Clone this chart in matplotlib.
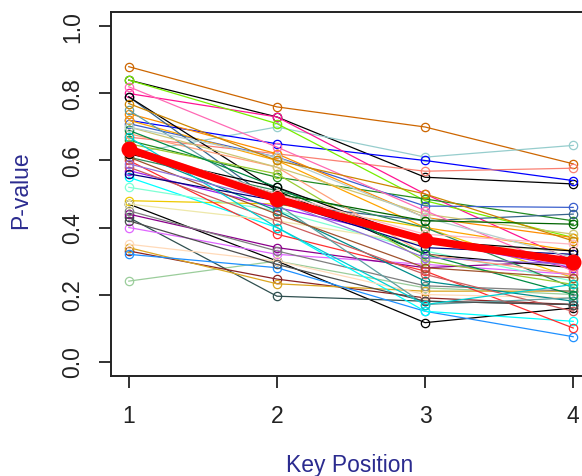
import matplotlib
matplotlib.use("Agg")
import matplotlib.pyplot as plt

plt.rcParams['font.family'] = ['Liberation Sans', 'DejaVu Sans']

positions = [1, 2, 3, 4]

# p-values per subject at each key position
series = [
    [0.88, 0.76, 0.70, 0.59],
    [0.84, 0.73, 0.55, 0.53],
    [0.62, 0.70, 0.61, 0.645],
    [0.72, 0.65, 0.60, 0.54],
    [0.67, 0.62, 0.568, 0.577],
    [0.80, 0.73, 0.50, 0.30],
    [0.84, 0.71, 0.48, 0.37],
    [0.66, 0.55, 0.485, 0.42],
    [0.71, 0.61, 0.464, 0.46],
    [0.48, 0.47, 0.40, 0.25],
    [0.24, 0.30, 0.22, 0.20],
    [0.47, 0.30, 0.116, 0.16],
    [0.43, 0.195, 0.18, 0.17],
    [0.33, 0.246, 0.19, 0.17],
    [0.34, 0.232, 0.21, 0.21],
    [0.32, 0.28, 0.15, 0.074],
    [0.40, 0.32, 0.29, 0.26],
    [0.44, 0.34, 0.28, 0.30],
    [0.45, 0.33, 0.226, 0.21],
    [0.55, 0.40, 0.15, 0.12],
    [0.52, 0.45, 0.33, 0.24],
    [0.74, 0.62, 0.43, 0.37],
    [0.72, 0.60, 0.40, 0.33],
    [0.79, 0.47, 0.42, 0.44],
    [0.79, 0.51, 0.32, 0.28],
    [0.60, 0.38, 0.27, 0.10],
    [0.61, 0.51, 0.40, 0.22],
    [0.57, 0.46, 0.36, 0.28],
    [0.47, 0.42, 0.35, 0.33],
    [0.35, 0.30, 0.20, 0.19],
    [0.68, 0.58, 0.32, 0.26],
    [0.63, 0.45, 0.24, 0.18],
    [0.65, 0.56, 0.30, 0.23],
    [0.58, 0.42, 0.26, 0.15],
    [0.75, 0.47, 0.17, 0.19],
    [0.70, 0.58, 0.44, 0.38],
    [0.56, 0.48, 0.34, 0.32],
    [0.69, 0.52, 0.32, 0.20],
    [0.82, 0.64, 0.45, 0.27],
    [0.61, 0.44, 0.28, 0.25],
    [0.42, 0.29, 0.18, 0.17],
    [0.67, 0.40, 0.17, 0.23],
    [0.70, 0.61, 0.43, 0.31],
    [0.62, 0.52, 0.36, 0.33],
    [0.59, 0.48, 0.31, 0.29],
    [0.77, 0.60, 0.50, 0.36],
    [0.63, 0.50, 0.42, 0.41],
    [0.64, 0.50, 0.38, 0.35],
]

colours = [
    '#CD6600', 'black', '#96CDCD', 'blue', '#FA8072', '#FF1493', '#76EE00',
    '#228B22', '#3A5FCD', '#EEC900', '#9BCD9B', 'black', '#2F4F4F', '#8B2323',
    '#DAA520', '#1E90FF', '#E066FF', '#8B008B', '#7F7F7F', '#00FFFF',
    '#7FFFD4', '#FF8C00', '#FFA500', '#36648B', 'black', '#FF3030', '#2E8B57',
    '#A020F0', '#EEE8AA', '#FFDAB9', '#FFA07A', '#008B8B', '#9ACD32',
    '#CD5C5C', '#5F9EA0', '#CDC673', '#000080', '#008B45', '#FF69B4',
    '#A0522D', '#4D4D4D', '#00CED1', '#B4CDCD', 'black', '#9370DB', '#CD8500',
    '#006400', '#FFB6C1',
]

mean_pvalue = [0.634, 0.485, 0.363, 0.298]

label_blue = '#2B2B8F'

fig = plt.figure(figsize=(5.82, 4.77), dpi=100)
ax = fig.add_axes([111 / 582, 100 / 477, 480 / 582, 364 / 477])

for vals, c in zip(series, colours):
    ax.plot(positions, vals, color=c, lw=0.9, marker='o', ms=6,
            mfc='none', mec=c, mew=0.9)

ax.plot(positions, mean_pvalue, color='red', lw=5.5, marker='o', ms=10.5,
        mfc='red', mec='red', zorder=5)

ax.set_xlim(0.88, 4.12)
ax.set_ylim(-0.0432, 1.0432)
ax.set_xticks(positions)
ax.set_yticks([0.0, 0.2, 0.4, 0.6, 0.8, 1.0])
ax.set_yticklabels(['0.0', '0.2', '0.4', '0.6', '0.8', '1.0'],
                   rotation=90, va='center')

ax.tick_params(axis='both', labelsize=16.5, length=8.5, width=1.3,
               color='#222222', labelcolor='#222222')
ax.tick_params(axis='x', pad=12)
ax.tick_params(axis='y', pad=11)

for s in ax.spines.values():
    s.set_linewidth(1.4)
    s.set_color('#222222')

fig.text(350 / 582, 1 - 466 / 477, 'Key Position', color=label_blue,
         fontsize=16.5, ha='center', va='center')
fig.text(21 / 582, 1 - 190 / 477, 'P-value', color=label_blue,
         fontsize=16.5, ha='center', va='center', rotation=90)

fig.savefig('out.png', dpi=100)
